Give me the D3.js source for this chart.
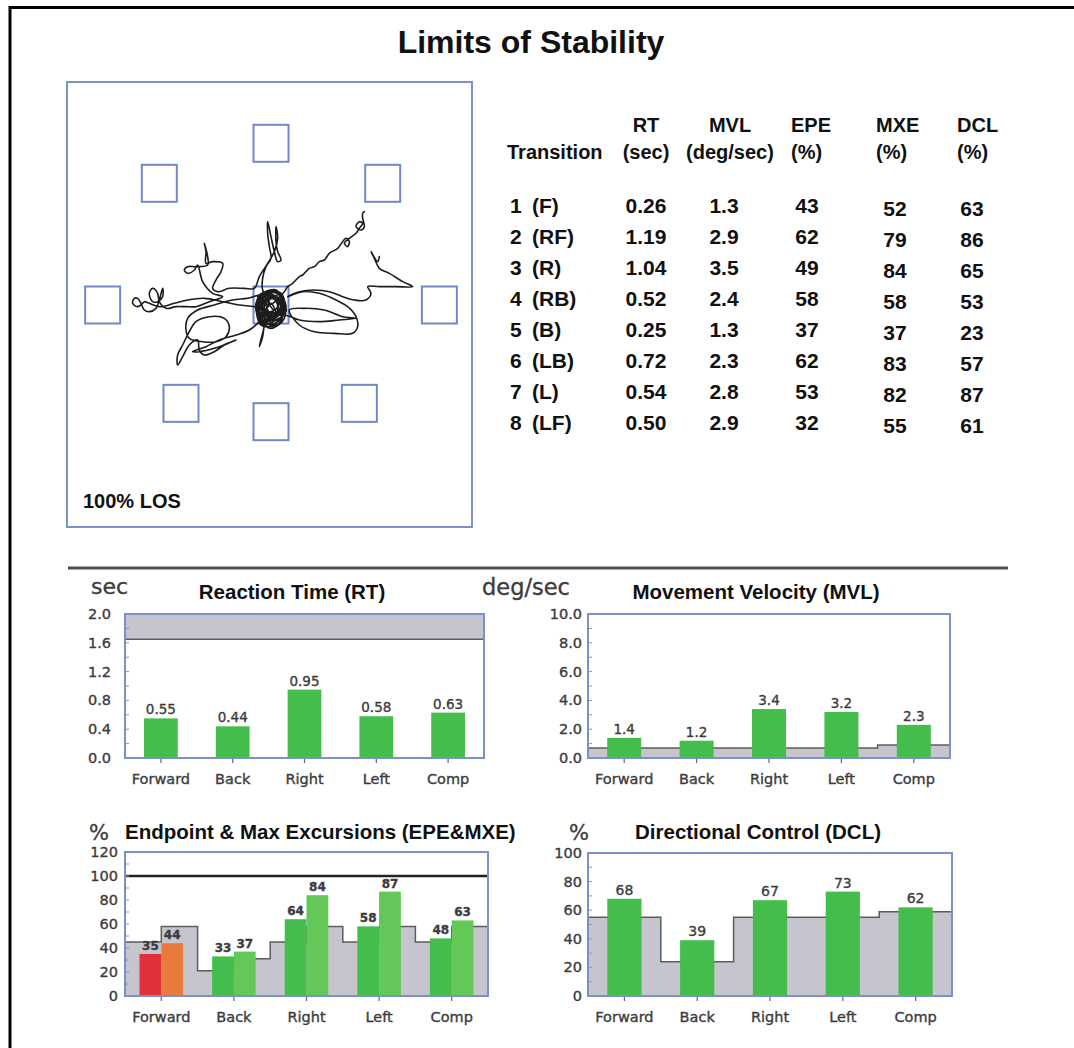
<!DOCTYPE html>
<html>
<head>
<meta charset="utf-8">
<title>Limits of Stability</title>
<script src="https://cdn.jsdelivr.net/npm/d3@7/dist/d3.min.js"></script>
<style>
  html, body { margin: 0; padding: 0; background: #fff; }
  svg { display: block; }
  .bold { font-family: "Liberation Sans", Arial, Helvetica, sans-serif; font-weight: bold; fill: #111; }
  .soft { font-family: "DejaVu Sans", sans-serif; fill: #3c3c3c; stroke: #3c3c3c; stroke-width: 0.35px; }
</style>
</head>
<body>
<svg id="chart" width="1074" height="1048"></svg>
<script>
// ---------- summary bar charts ----------
const directions = ["Forward", "Back", "Right", "Left", "Comp"];

const rtValues = [0.55, 0.44, 0.95, 0.58, 0.63];
const rtTicks = [0, 0.4, 0.8, 1.2, 1.6, 2.0];
const rtNormLimit = 1.65;

const mvlValues = [1.4, 1.2, 3.4, 3.2, 2.3];
const mvlTicks = [0, 2, 4, 6, 8, 10];
const mvlNorm = [0.7, 0.7, 0.7, 0.7, 0.9];

const epeValues = [35, 33, 64, 58, 48];
const mxeValues = [44, 37, 84, 87, 63];
const epeNorm = [45, 21, 45, 45, 45];
const mxeNorm = [58, 31, 58, 58, 58];
const excursionTicks = [0, 20, 40, 60, 80, 100, 120];
const excursionTarget = 100;

const dclValues = [68, 39, 67, 73, 62];
const dclNorm = [55, 24, 55, 55, 59];
const dclTicks = [0, 20, 40, 60, 80, 100];

// ---------- per-transition table ----------
const transitionNos = ["1", "2", "3", "4", "5", "6", "7", "8"];
const transitionDirs = ["(F)", "(RF)", "(R)", "(RB)", "(B)", "(LB)", "(L)", "(LF)"];
const tableRT = [0.26, 1.19, 1.04, 0.52, 0.25, 0.72, 0.54, 0.50];
const tableMVL = [1.3, 2.9, 3.5, 2.4, 1.3, 2.3, 2.8, 2.9];
const tableEPE = [43, 62, 49, 58, 37, 62, 53, 32];
const tableMXE = [52, 79, 84, 58, 37, 83, 82, 55];
const tableDCL = [63, 86, 65, 53, 23, 57, 87, 61];

// ---------- LOS targets (percent of limits of stability) ----------
const targetNames = ["C", "F", "RF", "R", "RB", "B", "LB", "L", "LF"];
const targetX = [0, 0, 67, 101, 53, 0, -54, -101, -67];
const targetY = [0, 97, 73, 0, -59, -70, -59, 0, 73];

// centre-of-gravity sway trace, percent of LOS [x, y]
const swayTrace = [
  [56,56],[55,55],[55,52],[56,47],[54,45],[51,47],[53,50],[55,49],[53,46],[51,43],[47,40],[44,37],[46,35],[47,38],[45,40],[40,34],[35,31],[32,27],[29,26],[26,23],[23,22],[19,18],[17,17],[13,13],[10,11],[8,8],
  [-1,0],[-5,4],[3,8],[8,1],[2,-7],[-6,-5],[-7,3],[-1,8],[7,5],[7,-4],[-2,-9],[-8,-2],[-4,5],[5,4],[5,-3],[-1,-5],[-5,0],[1,4],[4,-1],[-1,-4],[-4,2],
  [-8,5],[3,9],[8,-4],[-2,-13],[-9,-3],[-3,8],[7,5],[5,-11],[-6,-12],[-8,4],[2,9],[9,-1],[1,-12],[-7,-6],[-4,7],[6,7],[8,-8],[-1,-14],[-9,0],[-4,5],[4,8],[9,-4],[3,-9],[-5,-12],[-9,1],[-2,7],[5,3],[7,-7],[-3,-9],[-7,-1],[0,5],[6,1],[4,-12],[-4,-7],[-6,6],[3,8],[8,2],[5,-6],[-4,-10],[-8,-4],[-1,3],[5,6],[6,-9],[-2,-6],[-5,2],[2,5],[7,-1],[0,-8],[-5,-4],[-3,4],[4,2],[3,-5],[-3,-3],[0,1],
  [3,-6],[-6,-3],[-3,7],[6,6],[8,-2],[0,-8],[-7,-6],[-8,4],[0,9],[7,3],[4,-5],[-4,-6],[-6,1],[-2,6],[5,2],[2,-3],
  [-5,9],[-5,16],[-3,23],[0,28],[-1,35],[-2,43],[-2,50],[0,41],[2,32],[4,26],[6,27],[4,32],[3,38],[3,47],[4,40],[2,32],[-2,25],[-7,17],[-10,10],
  [-16,10],[-25,10],[-32,8],[-35,10],[-33,15],[-30,20],[-29,25],[-35,26],[-39,25],[-39,32],[-40,37],[-38,29],[-38,24],[-45,23],[-50,23],[-52,21],[-50,19],[-46,21],[-44,24],
  [-41,14],[-35,7],[-29,5],[-37,2],[-45,-1],[-51,-1],[-57,-1],[-63,-2],
  [-67,2],[-68,7],[-71,10],[-73,7],[-71,2],[-68,2],[-65,5],[-65,10],[-67,3],[-69,-2],[-73,-4],[-76,-3],
  [-78,1],[-80,4],[-82,4],[-83,1],[-80,-1],[-77,1],[-76,2],
  [-73,1],[-67,-1],[-58,1],[-50,3],[-40,4],[-29,2],[-19,0],[-10,-1],
  [-4,-3],[-1,1],[-5,6],
  [-14,4],[-23,3],[-34,0],[-44,-3],[-50,-8],[-51,-15],[-49,-20],[-41,-22],[-33,-22],[-27,-19],[-25,-13],[-28,-8],[-37,-7],[-45,-10],[-49,-16],[-53,-24],[-56,-30],[-56,-36],
  [-53,-31],[-49,-24],[-44,-21],[-43,-27],[-40,-30],[-34,-28],[-28,-24],[-21,-21],[-26,-23],[-34,-26],[-43,-28],[-47,-28],[-39,-25],[-31,-21],[-21,-18],[-13,-15],[-7,-10],
  [-3,-5],[4,-4],[7,1],[3,5],[-3,3],
  [-4,-10],[-5,-19],[-7,-25],[-5,-17],[-2,-8],
  [8,-6],[17,-9],[29,-10],[41,-9],[51,-8],[43,-7],[32,-3],[20,-2],[11,-3],[17,-12],[26,-16],[38,-17],[49,-17],[52,-13],[51,-7],[46,-1],[39,3],[29,7],[19,8],[10,5],
  [17,8],[26,9],[35,8],[43,5],[50,3],[57,3],[60,7],[58,11],[65,11],[75,11],[85,11],[79,14],[71,19],[65,22],[62,28],[60,32],[64,26],[65,29]
];

// ---------- styling ----------
const FRAME_BLUE = "#7b91cc";
const NORM_GRAY = "#c6c5cd";
const NORM_LINE = "#5c5c60";
const GREEN = "#45bd4c";
const GREEN_LIGHT = "#63c858";
const RED = "#e2313a";
const ORANGE = "#e9793d";

const svg = d3.select("#chart");

// page frame (left and top rules)
svg.append("path")
  .attr("d", "M10,1048 V7.5 H1074")
  .attr("fill", "none").attr("stroke", "#000").attr("stroke-width", 3);

svg.append("text").attr("class", "bold")
  .attr("x", 531).attr("y", 53).attr("text-anchor", "middle")
  .attr("font-size", 32).text("Limits of Stability");

// ================= LOS trace panel =================
const los = { left: 67, top: 82, width: 405, height: 445, cx: 271, cy: 305, unit: 1.667 };
const losX = d3.scaleLinear().domain([-100, 100]).range([los.cx - 100 * los.unit, los.cx + 100 * los.unit]);
const losY = d3.scaleLinear().domain([-100, 100]).range([los.cy + 100 * los.unit, los.cy - 100 * los.unit]);

const losG = svg.append("g");
losG.append("rect")
  .attr("x", los.left).attr("y", los.top).attr("width", los.width).attr("height", los.height)
  .attr("fill", "#fff").attr("stroke", FRAME_BLUE).attr("stroke-width", 2);

const targetW = 35, targetH = 37;
losG.selectAll("rect.target")
  .data(targetNames.map((n, i) => ({ n, x: targetX[i], y: targetY[i] })))
  .join("rect").attr("class", "target")
  .attr("x", d => losX(d.x) - targetW / 2)
  .attr("y", d => losY(d.y) - targetH / 2)
  .attr("width", targetW).attr("height", targetH)
  .attr("fill", "none").attr("stroke", "#7088c8").attr("stroke-width", 2);

losG.append("path")
  .datum(swayTrace)
  .attr("d", d3.line().x(d => losX(d[0])).y(d => losY(d[1])).curve(d3.curveCatmullRom.alpha(0.5)))
  .attr("fill", "none").attr("stroke", "#1c1c1c").attr("stroke-width", 1.6)
  .attr("stroke-linejoin", "round").attr("stroke-linecap", "round");

losG.append("text").attr("class", "bold")
  .attr("x", 83).attr("y", 508).attr("font-size", 20).text("100% LOS");

// ================= table =================
const tbl = svg.append("g");
const headTop = 132, headBottom = 159;
const headers = [
  { t1: "RT", t2: "(sec)", x: 646, anchor: "middle" },
  { t1: "MVL", t2: "(deg/sec)", x: 730, anchor: "middle" },
  { t1: "EPE", t2: "(%)", x: 791, anchor: "start" },
  { t1: "MXE", t2: "(%)", x: 876, anchor: "start" },
  { t1: "DCL", t2: "(%)", x: 957, anchor: "start" }
];
tbl.append("text").attr("class", "bold").attr("x", 507).attr("y", headBottom)
  .attr("font-size", 20).text("Transition");
headers.forEach(h => {
  tbl.append("text").attr("class", "bold").attr("x", h.x).attr("y", headTop)
    .attr("text-anchor", h.anchor).attr("font-size", 20).text(h.t1);
  tbl.append("text").attr("class", "bold").attr("x", h.x).attr("y", headBottom)
    .attr("text-anchor", h.anchor).attr("font-size", 20).text(h.t2);
});

const rowY = d3.scalePoint().domain(transitionNos).range([213, 430]);
const columns = [
  { vals: transitionNos, x: 510, anchor: "start", dy: 0, fmt: d => d },
  { vals: transitionDirs, x: 532, anchor: "start", dy: 0, fmt: d => d },
  { vals: tableRT, x: 646, anchor: "middle", dy: 0, fmt: d3.format(".2f") },
  { vals: tableMVL, x: 724, anchor: "middle", dy: 0, fmt: d3.format(".1f") },
  { vals: tableEPE, x: 807, anchor: "middle", dy: 0, fmt: d3.format("d") },
  { vals: tableMXE, x: 895, anchor: "middle", dy: 3, fmt: d3.format("d") },
  { vals: tableDCL, x: 972, anchor: "middle", dy: 3, fmt: d3.format("d") }
];
columns.forEach(c => {
  tbl.selectAll(null).data(c.vals).join("text").attr("class", "bold")
    .attr("x", c.x).attr("y", (d, i) => rowY(transitionNos[i]) + c.dy)
    .attr("text-anchor", c.anchor).attr("font-size", 21).text(c.fmt);
});

// divider between trace summary and charts
svg.append("line").attr("x1", 68).attr("x2", 1008).attr("y1", 568).attr("y2", 568)
  .attr("stroke", "#4d4d4d").attr("stroke-width", 3);

// ================= bar chart helpers =================
function makePanel(cfg) {
  const g = svg.append("g");
  const x = d3.scaleBand().domain(directions).range([cfg.left, cfg.right]);
  const y = d3.scaleLinear().domain([0, d3.max(cfg.ticks)]).range([cfg.bottom, cfg.top]);
  return { g, x, y, cfg };
}

function stepPoints(p, norms, halves) {
  // one point per slot (or per half-slot) for a step-shaped normative region
  const pts = [];
  directions.forEach((d, i) => {
    if (halves) {
      pts.push({ x: p.x(d), v: norms[0][i] });
      pts.push({ x: p.x(d) + p.x.bandwidth() / 2, v: norms[1][i] });
    } else {
      pts.push({ x: p.x(d), v: norms[i] });
    }
  });
  pts.push({ x: p.cfg.right, v: pts[pts.length - 1].v });
  return pts;
}

function drawNormStep(p, pts) {
  p.g.append("path").datum(pts)
    .attr("d", d3.area().x(d => d.x).y0(p.y(0)).y1(d => p.y(d.v)).curve(d3.curveStepAfter))
    .attr("fill", NORM_GRAY);
  p.g.append("path").datum(pts)
    .attr("d", d3.line().x(d => d.x).y(d => p.y(d.v)).curve(d3.curveStepAfter))
    .attr("fill", "none").attr("stroke", NORM_LINE).attr("stroke-width", 1.5);
}

function drawAxes(p, fmt, labelX, minorCount) {
  const { g, x, y, cfg } = p;
  const top = y(d3.max(cfg.ticks)), bottom = y(0);
  // minor ticks inside the left edge
  g.selectAll(null).data(y.ticks(minorCount)).join("line")
    .attr("x1", cfg.left).attr("x2", cfg.left + 4)
    .attr("y1", d => y(d)).attr("y2", d => y(d))
    .attr("stroke", "#8a96b8").attr("stroke-width", 1);
  // frame
  g.append("rect").attr("x", cfg.left).attr("y", top)
    .attr("width", cfg.right - cfg.left).attr("height", bottom - top)
    .attr("fill", "none").attr("stroke", FRAME_BLUE).attr("stroke-width", 2);
  // y labels
  g.selectAll(null).data(cfg.ticks).join("text").attr("class", "soft")
    .attr("x", labelX).attr("y", d => y(d) + 5)
    .attr("text-anchor", "end").attr("font-size", 14.5).text(fmt);
  // category ticks and labels
  g.selectAll(null).data(directions).join("line")
    .attr("x1", d => x(d) + x.bandwidth() / 2).attr("x2", d => x(d) + x.bandwidth() / 2)
    .attr("y1", bottom + 1).attr("y2", bottom + 5)
    .attr("stroke", "#666").attr("stroke-width", 1.2);
  g.selectAll(null).data(directions).join("text").attr("class", "soft")
    .attr("x", d => x(d) + x.bandwidth() / 2).attr("y", bottom + 26)
    .attr("text-anchor", "middle").attr("font-size", 14.5).text(d => d);
}

function drawTitles(cfg) {
  svg.append("text").attr("class", "bold").attr("x", cfg.titleX).attr("y", cfg.titleY)
    .attr("text-anchor", cfg.titleAnchor || "middle").attr("font-size", 20.5).text(cfg.title);
  svg.append("text").attr("class", "soft").attr("x", cfg.unitX).attr("y", cfg.unitY)
    .attr("font-size", cfg.unitSize).text(cfg.unit);
}

function drawSingleBars(p, values, fmt, labelSize) {
  const { g, x, y } = p;
  const w = x.bandwidth() * 0.47;
  const data = directions.map((d, i) => ({ d, v: values[i] }));
  g.selectAll(null).data(data).join("rect")
    .attr("x", e => x(e.d) + (x.bandwidth() - w) / 2).attr("width", w)
    .attr("y", e => y(e.v)).attr("height", e => y(0) - y(e.v))
    .attr("fill", GREEN);
  g.selectAll(null).data(data).join("text").attr("class", "soft")
    .attr("x", e => x(e.d) + x.bandwidth() / 2).attr("y", e => y(e.v) - 4)
    .attr("text-anchor", "middle").attr("font-size", labelSize).text(e => fmt(e.v));
}

// ================= Reaction Time =================
const rtCfg = { left: 125, right: 484, top: 614, bottom: 758, ticks: rtTicks,
  title: "Reaction Time (RT)", titleX: 292, titleY: 599, unit: "sec", unitX: 91, unitY: 594, unitSize: 22 };
const rt = makePanel(rtCfg);
rt.g.append("rect").attr("x", rtCfg.left).attr("width", rtCfg.right - rtCfg.left)
  .attr("y", rt.y(2)).attr("height", rt.y(rtNormLimit) - rt.y(2)).attr("fill", NORM_GRAY);
rt.g.append("line").attr("x1", rtCfg.left).attr("x2", rtCfg.right)
  .attr("y1", rt.y(rtNormLimit)).attr("y2", rt.y(rtNormLimit))
  .attr("stroke", NORM_LINE).attr("stroke-width", 1.5);
drawSingleBars(rt, rtValues, d3.format(".2f"), 13.5);
drawAxes(rt, d3.format(".1f"), 111, 10);
drawTitles(rtCfg);

// ================= Movement Velocity =================
const mvlCfg = { left: 588, right: 950, top: 614, bottom: 758, ticks: mvlTicks,
  title: "Movement Velocity (MVL)", titleX: 756, titleY: 599, unit: "deg/sec", unitX: 482, unitY: 595, unitSize: 22.5 };
const mvl = makePanel(mvlCfg);
drawNormStep(mvl, stepPoints(mvl, mvlNorm, false));
drawSingleBars(mvl, mvlValues, d3.format(".1f"), 13.5);
drawAxes(mvl, d3.format(".1f"), 582, 10);
drawTitles(mvlCfg);

// ================= Endpoint & Max Excursions =================
const exCfg = { left: 125, right: 488, top: 852, bottom: 996, ticks: excursionTicks,
  title: "Endpoint & Max Excursions (EPE&MXE)", titleX: 125, titleY: 839, titleAnchor: "start",
  unit: "%", unitX: 89, unitY: 840, unitSize: 21 };
const ex = makePanel(exCfg);
drawNormStep(ex, stepPoints(ex, [epeNorm, mxeNorm], true));
{
  const inner = d3.scaleBand().domain(["EPE", "MXE"]).range([0, ex.x.bandwidth()])
    .paddingInner(0).paddingOuter(0.667);
  const bars = [];
  directions.forEach((d, i) => {
    bars.push({ d, k: "EPE", v: epeValues[i], norm: epeNorm[i] });
    bars.push({ d, k: "MXE", v: mxeValues[i], norm: mxeNorm[i] });
  });
  const fill = b => b.v < b.norm ? (b.k === "EPE" ? RED : ORANGE) : (b.k === "EPE" ? GREEN : GREEN_LIGHT);
  ex.g.selectAll(null).data(bars).join("rect")
    .attr("x", b => ex.x(b.d) + inner(b.k)).attr("width", inner.bandwidth())
    .attr("y", b => ex.y(b.v)).attr("height", b => ex.y(0) - ex.y(b.v))
    .attr("fill", fill);
  ex.g.append("line").attr("x1", exCfg.left).attr("x2", exCfg.right)
    .attr("y1", ex.y(excursionTarget)).attr("y2", ex.y(excursionTarget))
    .attr("stroke", "#222").attr("stroke-width", 2.5);
  ex.g.selectAll(null).data(bars).join("text").attr("class", "soft")
    .attr("x", b => ex.x(b.d) + inner(b.k) + inner.bandwidth() / 2)
    .attr("y", b => ex.y(b.v) - 4).attr("text-anchor", "middle")
    .attr("font-size", 12).attr("font-weight", "bold").text(b => b.v);
}
drawAxes(ex, d3.format("d"), 118, 12);
drawTitles(exCfg);

// ================= Directional Control =================
const dclCfg = { left: 588, right: 952, top: 853, bottom: 996, ticks: dclTicks,
  title: "Directional Control (DCL)", titleX: 758, titleY: 839,
  unit: "%", unitX: 569, unitY: 840, unitSize: 21 };
const dcl = makePanel(dclCfg);
drawNormStep(dcl, stepPoints(dcl, dclNorm, false));
drawSingleBars(dcl, dclValues, d3.format("d"), 14);
drawAxes(dcl, d3.format("d"), 582, 10);
drawTitles(dclCfg);
</script>
</body>
</html>
